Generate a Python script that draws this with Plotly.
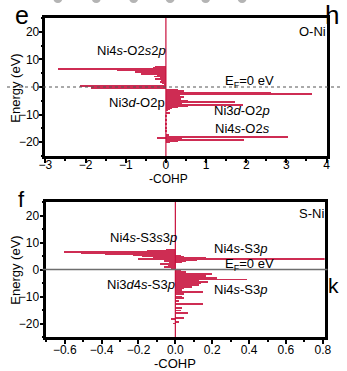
import plotly.graph_objects as go

# ---------------- data ----------------
# Panel e : O-Ni  (energy in eV, -COHP value)
oni_energy = [7.4, 7.0, 6.6, 6.3, 6.0, 5.6, 5.3, 5.0, 4.6, 4.2, 3.8, 3.3, 2.9, 2.5, 1.9, 1.5, 1.1,
              0.4, -0.3,
              -1.2, -1.6, -2.1, -2.7, -3.1, -3.5, -3.9, -4.3, -4.7, -5.0, -5.5, -5.9, -6.4, -6.8,
              -7.2, -7.6, -8.0, -8.5, -9.3, -10.5, -12.0, -13.5, -15.0, -16.0, -17.5,
              -18.0, -18.5, -18.9, -19.2, -19.6, -20.0]
oni_cohp = [-0.25, -0.30, -2.68, -1.20, -0.98, -0.75, -0.25, -0.43, -0.62, -0.20, -0.28, -0.14, -0.26,
            -0.10, -0.14, -0.08, -0.05,
            -2.12, -1.86,
            0.30, 0.45, 2.62, 3.64, 0.35, 0.45, 0.25, 0.38, 0.20, 0.55, 1.72, 0.40, 1.93, 0.55,
            0.30, 0.15, 0.10, 0.05, 0.12, 0.02, 0.02, 0.02, 0.02, 0.02, 0.08,
            3.05, -0.22, 0.40, 1.96, 0.30, 0.10]

# Panel f : S-Ni
sni_energy = [7.3, 6.9, 6.5, 6.1, 5.7, 5.4, 5.0, 4.6, 4.2, 3.9, 3.4, 3.0, 2.5, 2.1, 1.5, 0.9, 0.4,
              5.2, 4.8, 4.4, 4.1, 3.85, 3.6, 3.2, 2.7,
              -0.5, -1.0, -1.5, -2.0, -2.5, -3.1, -3.7, -4.1, -4.6, -5.0, -5.4, -5.8, -6.2, -6.6,
              -7.0, -7.5, -8.2, -9.2, -10.0, -10.7, -11.5, -12.9, -14.4, -15.2, -16.0, -17.8,
              -18.5, -19.5, -20.0]
sni_cohp = [-0.05, -0.15, -0.60, -0.51, -0.38, -0.23, -0.18, -0.12, -0.08, -0.20, -0.05, -0.06, -0.03,
            -0.08, -0.04, -0.06, -0.02,
            0.03, 0.05, 0.10, 0.17, 0.85, 0.12, 0.06, 0.04,
            0.03, 0.06, 0.20, 0.12, 0.17, 0.23, 0.39, 0.13, 0.18, 0.14, 0.11, 0.13, 0.07, 0.09,
            0.05, 0.04, 0.15, 0.05, 0.04, 0.05, 0.02, 0.15, 0.04, 0.03, 0.07, 0.05,
            -0.02, 0.02, -0.01]

top_xticks = [-3, -2, -1, 0, 1, 2, 3, 4]
bot_xticks = [-0.6, -0.4, -0.2, 0.0, 0.2, 0.4, 0.6, 0.8]
y_ticks = [-20, -10, 0, 10, 20]

# ---------------- figure ----------------
W, H = 347, 371
RED = "#c8103c"
FONT = "Arial, Liberation Sans, sans-serif"


def px(x):
    return x / W


def py(y):
    return 1 - y / H


fig = go.Figure()
fig.add_trace(go.Bar(x=oni_cohp, y=oni_energy, orientation="h", width=0.34, base=0,
                     marker=dict(color=RED, line=dict(width=0)), opacity=0.88,
                     xaxis="x", yaxis="y", showlegend=False))
fig.add_trace(go.Bar(x=sni_cohp, y=sni_energy, orientation="h", width=0.34, base=0,
                     marker=dict(color=RED, line=dict(width=0)), opacity=0.88,
                     xaxis="x2", yaxis="y2", showlegend=False))

axis_common = dict(showline=True, linecolor="black", linewidth=2.5, mirror=True,
                   ticks="outside", ticklen=4, tickwidth=2, tickcolor="black",
                   showgrid=False, zeroline=False,
                   tickfont=dict(family=FONT, size=12, color="black"))

fig.update_layout(
    width=W, height=H, autosize=False,
    margin=dict(l=0, r=0, t=0, b=0),
    paper_bgcolor="white", plot_bgcolor="white",
    bargap=0, barmode="overlay",
    font=dict(family=FONT, color="black"),
    xaxis=dict(domain=[px(40), px(333)], range=[-3, 4], tickvals=top_xticks,
               ticklabelstandoff=-8,
               minor=dict(dtick=0.5, ticks="outside", ticklen=2, tickwidth=1.5, tickcolor="black"),
               anchor="y", **axis_common),
    yaxis=dict(domain=[py(156), py(18)], range=[-25, 25], tickvals=y_ticks,
               ticklabelstandoff=-3,
               minor=dict(dtick=5, ticks="outside", ticklen=2, tickwidth=1.5, tickcolor="black"),
               anchor="x", **axis_common),
    xaxis2=dict(domain=[px(41), px(331)], range=[-0.7, 0.81], tickvals=bot_xticks,
                tickformat=".1f", ticklabelstandoff=-4,
                minor=dict(dtick=0.1, ticks="outside", ticklen=2, tickwidth=1.5, tickcolor="black"),
                anchor="y2", **axis_common),
    yaxis2=dict(domain=[py(337), py(202)], range=[-25, 25], tickvals=y_ticks,
                ticklabelstandoff=-2,
                minor=dict(dtick=5, ticks="outside", ticklen=2, tickwidth=1.5, tickcolor="black"),
                anchor="x2", **axis_common),
)

# vertical zero lines (crimson)
fig.add_shape(type="line", xref="x", yref="y domain", x0=0, x1=0, y0=0, y1=1,
              line=dict(color=RED, width=1.2))
fig.add_shape(type="line", xref="x2", yref="y2 domain", x0=0, x1=0, y0=0, y1=1,
              line=dict(color=RED, width=1.2))

# Fermi level lines
fig.add_shape(type="line", xref="paper", yref="y", x0=0, x1=1, y0=0, y1=0,
              line=dict(color="#555555", width=1, dash="dot"))
fig.add_shape(type="line", xref="paper", yref="y2", x0=px(37), x1=px(334), y0=0, y1=0,
              line=dict(color="#6e6e6e", width=1.3))

# gray blobs at very top (cropped symbols from the panel above)
for cx in [53, 93, 132, 170, 207, 245]:
    fig.add_shape(type="circle", xref="paper", yref="paper",
                  x0=px(cx - 5), x1=px(cx + 5), y0=py(3), y1=py(-8),
                  fillcolor="#b4b4b4", line=dict(width=0))

ann = [
    # panel e
    ("Ni4<i>s</i>-O2<i>s</i>2<i>p</i>", 130, 50, 13, 0),
    ("O-Ni", 318, 31, 13, 0),
    ("E<sub>F</sub>=0 eV", 253, 81, 13, 0),
    ("Ni3<i>d</i>-O2p", 135, 102, 13, 0),
    ("Ni3<i>d</i>-O2<i>p</i>", 245, 110, 13, 0),
    ("Ni4<i>s</i>-O2<i>s</i>", 245, 128, 13, 0),
    ("Energy (eV)", 8, 88, 13, -90),
    ("-COHP", 168, 179, 12, 0),
    ("e", 16, 15, 25, 0),
    ("h", 339, 15, 26, 0),
    # panel f
    ("S-Ni", 317, 213, 13, 0),
    ("Ni4<i>s</i>-S3<i>s</i>3<i>p</i>", 142, 237, 13, 0),
    ("Ni4<i>s</i>-S3<i>p</i>", 243, 248, 13, 0),
    ("E<sub>F</sub>=0 eV", 253, 264, 13, 0),
    ("Ni3<i>d</i>4<i>s</i>-S3<i>p</i>", 140, 284, 13, 0),
    ("Ni4<i>s</i>-S3<i>p</i>", 243, 289, 13, 0),
    ("Energy (eV)", 8, 270, 13, -90),
    ("-COHP", 175, 363, 13, 0),
    ("f", 15, 200, 22, 0),
    ("k", 340, 285, 21, 0),
]
for text, x, y, size, ang in ann:
    fig.add_annotation(text=text, x=px(x), y=py(y), xref="paper", yref="paper",
                       xanchor="center", yanchor="middle", showarrow=False, textangle=ang,
                       font=dict(family=FONT, size=size, color="black"))

fig.write_html("out.html")
